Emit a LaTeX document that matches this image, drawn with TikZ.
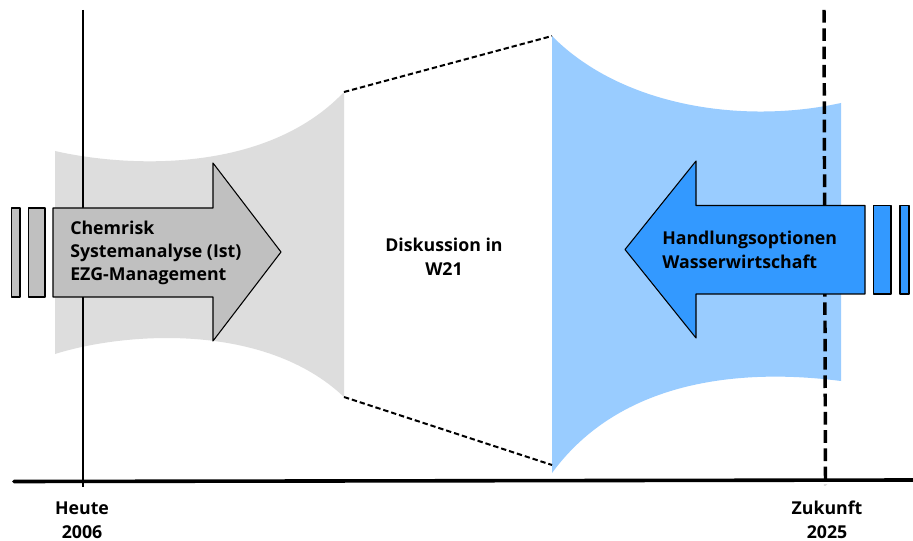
\documentclass[tikz,border=0pt]{standalone}
\usepackage{fontspec}
\setmainfont{Open Sans}
\definecolor{grayarea}{HTML}{DDDDDD}
\definecolor{grayarrow}{HTML}{C0C0C0}
\definecolor{bluearea}{HTML}{99CCFF}
\definecolor{bluearrow}{HTML}{3399FF}
\tikzset{
  barbox/.style={draw=black,line width=0.8pt,line join=round},
  lbl/.style={font=\fontsize{13.3pt}{17.5pt}\selectfont\bfseries,align=left,anchor=west,inner sep=0pt},
  clbl/.style={font=\fontsize{13.3pt}{17.8pt}\selectfont\bfseries,align=center,inner sep=0pt},
  edge dashed/.style={line width=1.5pt,dash pattern=on 4pt off 2.2pt},
}
\begin{document}
\begin{tikzpicture}[x=0.75pt,y=-0.75pt]
\useasboundingbox (0,0) rectangle (913,541);
\fill[white] (0,0) rectangle (913,541);
% shaded areas
\fill[grayarea] (55,151) .. controls (125,167) and (265,175) .. (344,92) -- (344,397)
  .. controls (265,322) and (125,332) .. (55,354) -- cycle;
\fill[bluearea] (552,36) .. controls (620,105) and (740,125) .. (841,103) -- (841,381)
  .. controls (740,368) and (620,380) .. (552,473) -- cycle;
% reference points
\coordinate (gt) at (344,92);
\coordinate (gb) at (344,397);
\coordinate (bt) at (552,36);
\coordinate (bb) at (552,465);
\draw[edge dashed] (gt) -- (bt);
\draw[edge dashed] (gb) -- (bb);
% axes
\coordinate (axl) at (14,481.5);
\coordinate (axr) at (913,480);
\coordinate (nowt) at (83,10);
\coordinate (nowb) at (83,487);
\coordinate (fut) at (824,10);
\coordinate (fub) at (825.5,485);
\draw[line width=2.1pt] (nowt) -- (nowb);
\draw[line width=2.6pt,dash pattern=on 9.5pt off 4.2pt] (fut) -- (fub);
\draw[line width=2.7pt,line cap=round] (axl) -- (axr);
% gray arrow
\draw[barbox,fill=grayarrow] (53,208) -- (213,208) -- (213,163) -- (281,252) -- (213,341) -- (213,297) -- (53,297) -- cycle;
\draw[barbox,fill=grayarrow] (11.5,208) rectangle (20,297);
\draw[barbox,fill=grayarrow] (28.5,208) rectangle (45,297);
% blue arrow
\draw[barbox,fill=bluearrow] (865,205.5) -- (696,205.5) -- (696,161) -- (625,249.5) -- (696,338) -- (696,294) -- (865,294) -- cycle;
\draw[barbox,fill=bluearrow] (873.5,205.5) rectangle (891,294);
\draw[barbox,fill=bluearrow] (900,205.5) rectangle (909,294);
% labels
\node[lbl] (chem) at (70,253) {Chemrisk\\Systemanalyse (Ist)\\EZG-Management};
\node[lbl] (hand) at (662,250) {Handlungsoptionen\\Wasserwirtschaft};
\node[clbl] (disk) at (444,257) {Diskussion in\\W21};
\node[clbl] (heute) at (82,520) {Heute\\2006};
\node[clbl] (zuk) at (827,520) {Zukunft\\2025};
\end{tikzpicture}
\end{document}
